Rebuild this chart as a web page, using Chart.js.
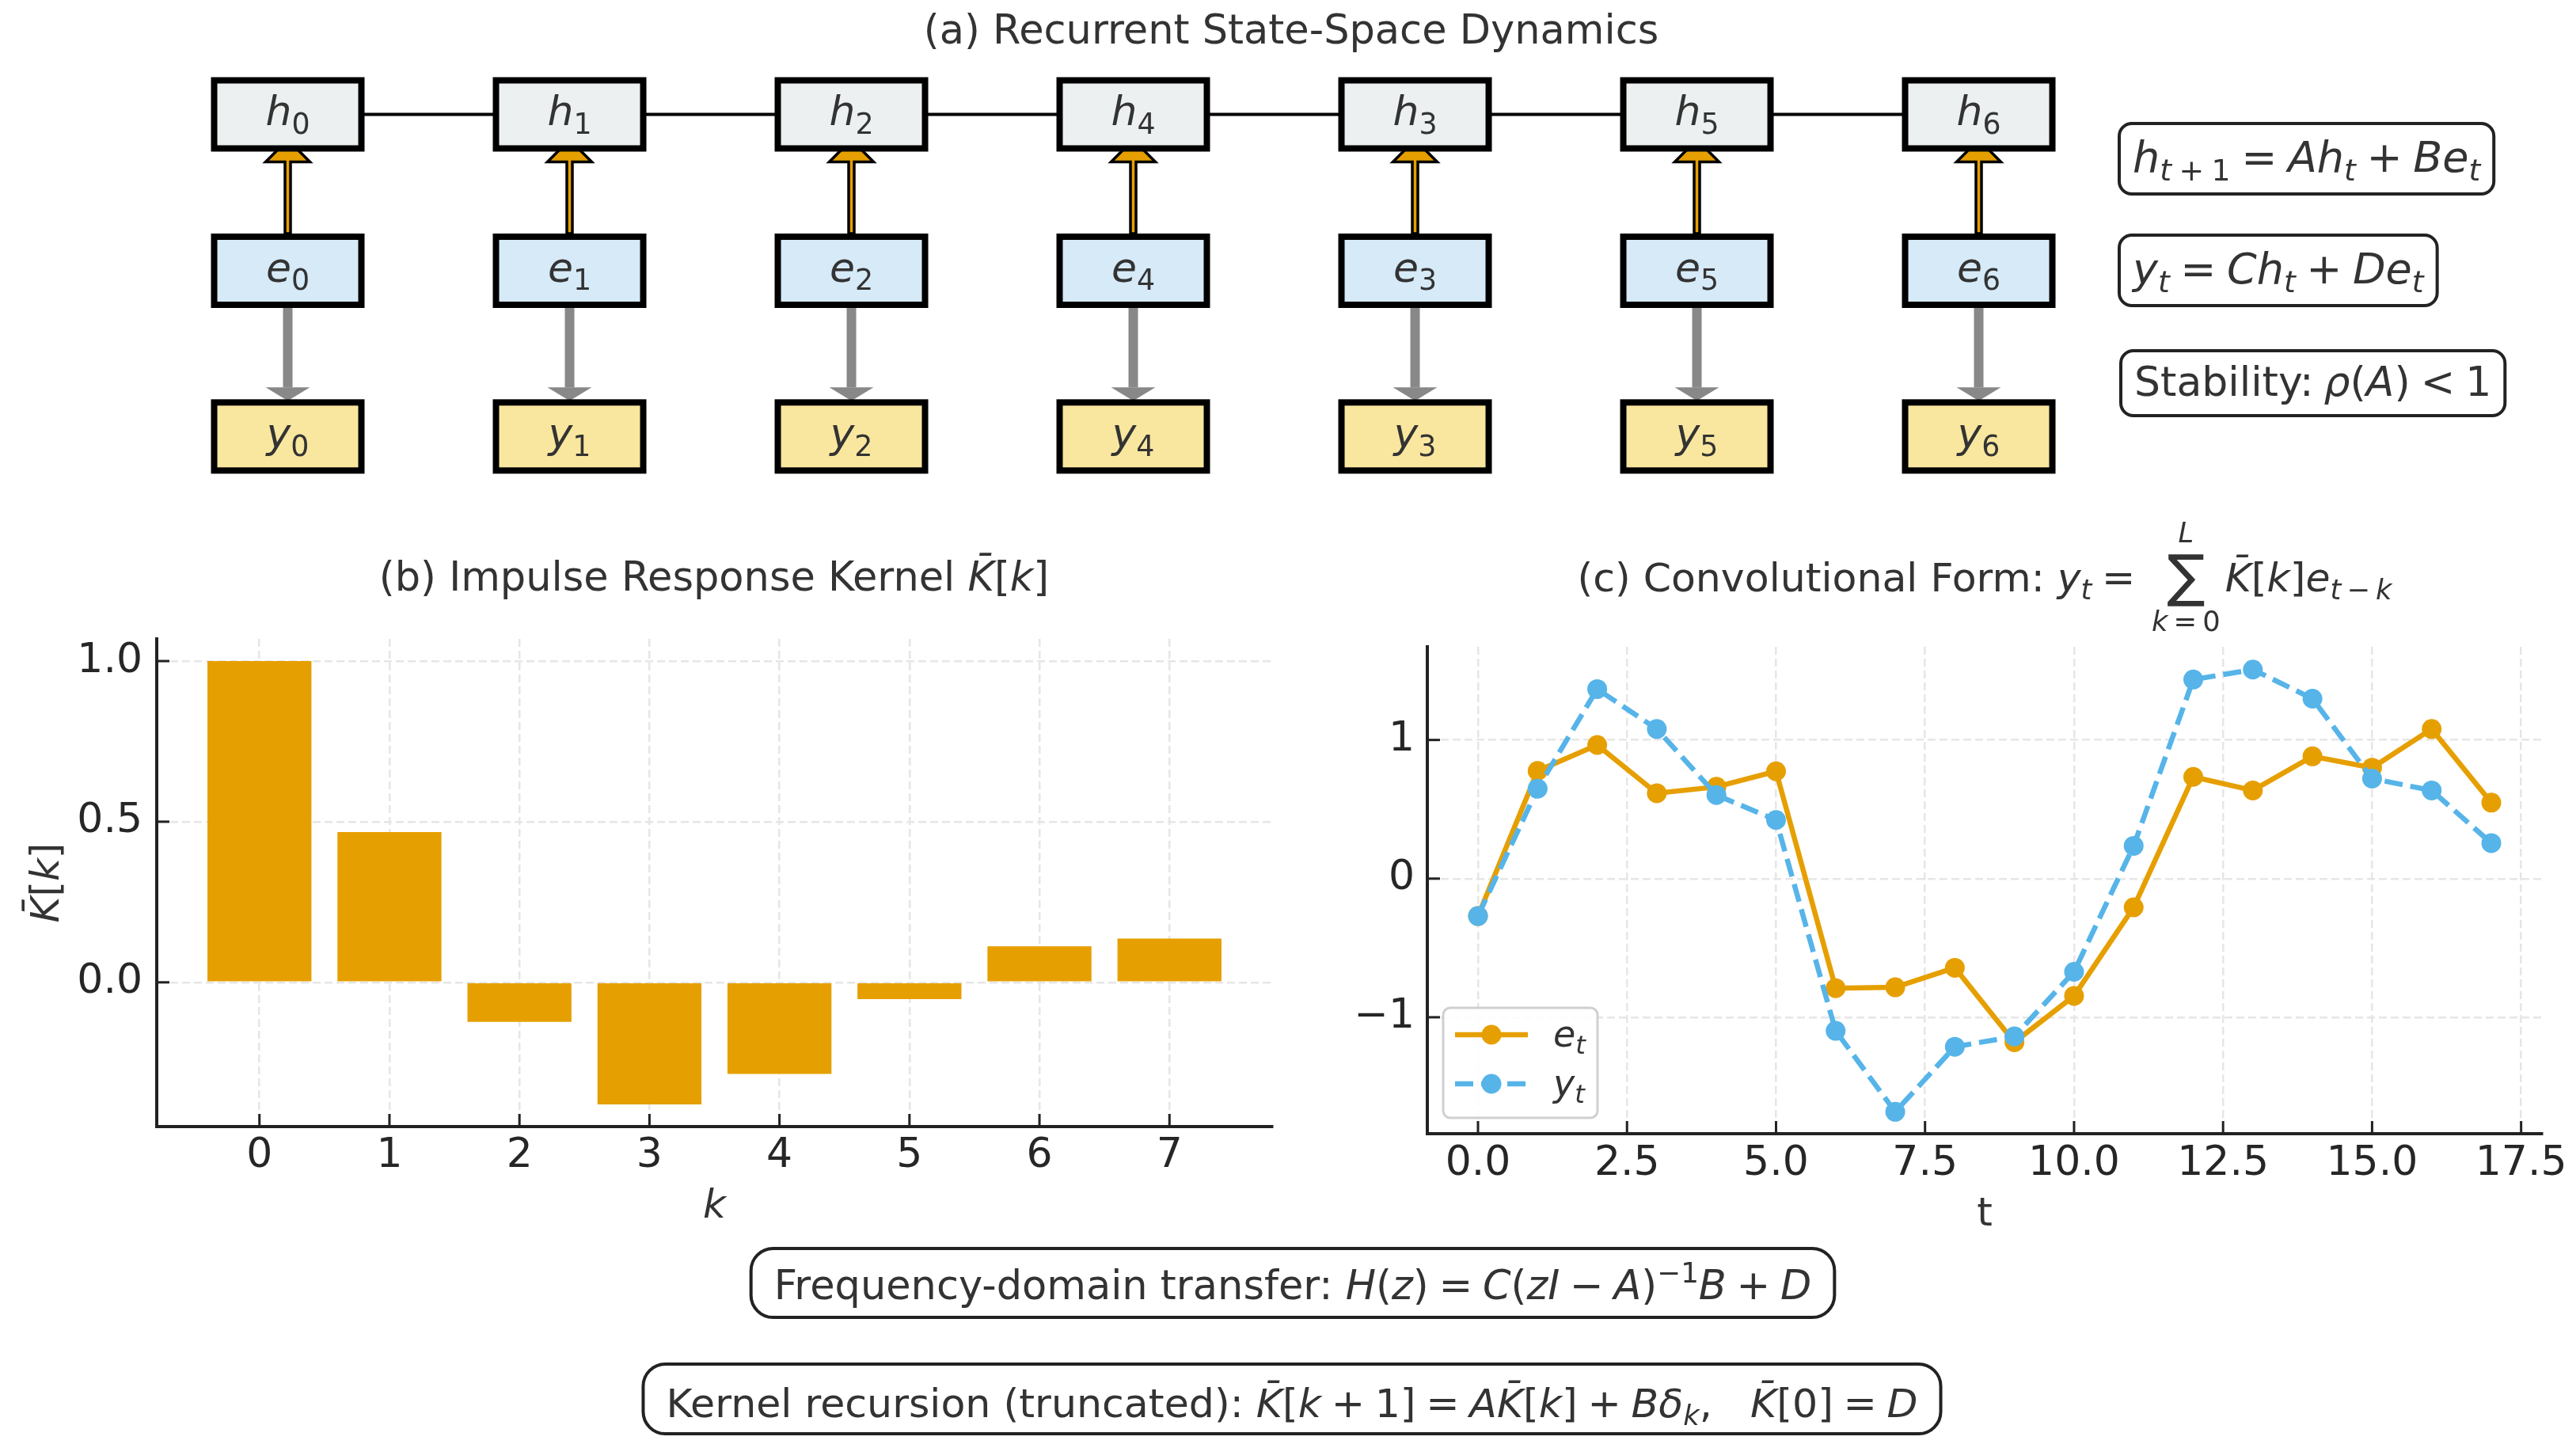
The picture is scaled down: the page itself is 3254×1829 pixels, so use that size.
<!DOCTYPE html>
<html>
<head>
<meta charset="utf-8">
<title>State-space model: recurrent and convolutional views</title>
<script src="https://cdn.jsdelivr.net/npm/chart.js@4.4.1/dist/chart.umd.min.js"></script>
<style>
  html, body { margin: 0; padding: 0; background: #fff; overflow: hidden; }
  #page { position: relative; width: 3254px; height: 1829px; }
  #page canvas { position: absolute; }
  #diagram { left: 0; top: 0; }
  #kernelChart { left: 0; top: 680px; }
  #convChart { left: 1700px; top: 680px; }
</style>
</head>
<body>
<div id="page">
  <canvas id="diagram" width="3254" height="1829"></canvas>
  <canvas id="kernelChart" width="1680" height="900"></canvas>
  <canvas id="convChart" width="1554" height="900"></canvas>
</div>
<script>
// --- Data ---

// (a) recurrent diagram: seven steps, subscripts in the order printed
const stepColumns = [0, 1, 2, 3, 4, 5, 6];
const stepSubscripts = ['0', '1', '2', '4', '3', '5', '6'];
const rowNames = ['h', 'e', 'y'];
const rowLevels = [2, 1, -0.06];

// (b) impulse response kernel
const kernelK = [0, 1, 2, 3, 4, 5, 6, 7];
const kernelValues = [1.0, 0.468, -0.123, -0.380, -0.285, -0.052, 0.112, 0.136];
const kernelXTickLabels = ['0', '1', '2', '3', '4', '5', '6', '7'];
const kernelYTicks = [0, 0.5, 1.0];
const kernelYTickLabels = ['0.0', '0.5', '1.0'];

// (c) convolutional form
const timeSteps = [0, 1, 2, 3, 4, 5, 6, 7, 8, 9, 10, 11, 12, 13, 14, 15, 16, 17];
const eSeries = [-0.27, 0.777, 0.964, 0.616, 0.662, 0.774, -0.790, -0.784, -0.643, -1.180, -0.846, -0.207, 0.734, 0.636, 0.882, 0.800, 1.079, 0.548];
const ySeries = [-0.27, 0.649, 1.367, 1.079, 0.603, 0.423, -1.098, -1.682, -1.213, -1.138, -0.672, 0.236, 1.436, 1.508, 1.298, 0.721, 0.636, 0.256];
const convXTicks = [0, 2.5, 5, 7.5, 10, 12.5, 15, 17.5];
const convXTickLabels = ['0.0', '2.5', '5.0', '7.5', '10.0', '12.5', '15.0', '17.5'];
const convYTicks = [-1, 0, 1];
const convYTickLabels = ['\u22121', '0', '1'];

// --- Styles ---
const FONT_FAMILY = '"DejaVu Sans", "Noto Sans", sans-serif';
const TEXT_COLOR = '#333333';
const TICK_COLOR = '#262626';
const AXIS_COLOR = '#222222';
const GRID_COLOR = '#e6e6e6';
const GRID_DASH = [10, 5];
const ORANGE = '#E69F00';
const SKY = '#56B4E9';
const rowFills = ['#ECF0F1', '#D6EAF8', '#F9E79F'];
const BOX_W = 186, BOX_H = 86, BOX_LW = 8;
const TITLE_SIZE = 51;
const SP = '\u2005'; // narrow space around math operators

// --- Rich text helpers (italic / sub / superscript runs) ---
function fontOf(size, italic) {
    return (italic ? 'italic ' : '') + size + 'px ' + FONT_FAMILY;
}

function layoutRich(ctx, parts, size) {
    let w = 0;
    const items = parts.map(([t, f = '']) => {
        const small = f.includes('_') || f.includes('^');
        const s = small ? size * 0.7 : size;
        const font = fontOf(s, f.includes('i'));
        ctx.font = font;
        const width = ctx.measureText(t).width;
        const dy = f.includes('_') ? size * 0.2 : (f.includes('^') ? -size * 0.42 : 0);
        const item = { t, font, x: w, dy };
        w += width;
        return item;
    });
    return { items, width: w };
}

function drawRich(ctx, parts, x, y, size, align = 'center', color = TEXT_COLOR) {
    const lay = layoutRich(ctx, parts, size);
    const x0 = align === 'center' ? x - lay.width / 2 : (align === 'right' ? x - lay.width : x);
    ctx.save();
    ctx.fillStyle = color;
    ctx.textAlign = 'left';
    ctx.textBaseline = 'alphabetic';
    lay.items.forEach(it => {
        ctx.font = it.font;
        ctx.fillText(it.t, x0 + it.x, y + it.dy);
    });
    ctx.restore();
    return lay.width;
}

function roundRect(ctx, x, y, w, h, r) {
    ctx.beginPath();
    ctx.moveTo(x + r, y);
    ctx.arcTo(x + w, y, x + w, y + h, r);
    ctx.arcTo(x + w, y + h, x, y + h, r);
    ctx.arcTo(x, y + h, x, y, r);
    ctx.arcTo(x, y, x + w, y, r);
    ctx.closePath();
}

// text inside a rounded frame; box grows with the measured text
function framedText(ctx, parts, o) {
    const w = layoutRich(ctx, parts, o.size).width + 2 * o.pad;
    const left = o.left !== undefined ? o.left : o.cx - w / 2;
    ctx.save();
    roundRect(ctx, left, o.top, w, o.h, o.r);
    ctx.fillStyle = '#ffffff';
    ctx.fill();
    ctx.lineWidth = 4;
    ctx.strokeStyle = AXIS_COLOR;
    ctx.stroke();
    ctx.restore();
    drawRich(ctx, parts, left + o.pad, o.baseline, o.size, 'left');
}

function drawSumTitle(ctx, cx, baseline, size) {
    const head = [['(c) Convolutional Form: '], ['y', 'i'], ['t', 'i_'], [SP + '=' + SP]];
    const tail = [['K\u0304', 'i'], ['['], ['k', 'i'], [']'], ['e', 'i'], ['t', 'i_'], ['\u2009\u2212\u2009', '_'], ['k', 'i_']];
    const above = [['L', 'i']];
    const below = [['k', 'i'], ['\u2009=\u20090']];
    const small = size * 0.7;
    const sigSize = size * 1.42;
    const wHead = layoutRich(ctx, head, size).width;
    const wTail = layoutRich(ctx, tail, size).width;
    const wBelow = layoutRich(ctx, below, small).width;
    ctx.font = fontOf(sigSize, false);
    const wSig = ctx.measureText('\u2211').width;
    const wBlock = Math.max(wBelow, wSig);
    const gap = 6;
    let x = cx - (wHead + 8 + wBlock + gap + wTail) / 2;
    drawRich(ctx, head, x, baseline, size, 'left');
    x += wHead + 8;
    const bc = x + wBlock / 2;
    ctx.save();
    ctx.fillStyle = TEXT_COLOR;
    ctx.font = fontOf(sigSize, false);
    ctx.textAlign = 'center';
    ctx.textBaseline = 'alphabetic';
    ctx.fillText('\u2211', bc, baseline + 5);
    ctx.restore();
    drawRich(ctx, above, bc, baseline - 62, small, 'center');
    drawRich(ctx, below, bc, baseline + 50, small, 'center');
    x += wBlock + gap;
    drawRich(ctx, tail, x, baseline, size, 'left');
}

// --- (a) diagram + panel titles + formula boxes ---
const diagramPlugin = {
    id: 'diagram',
    beforeDraw(chart) {
        const ctx = chart.ctx;
        ctx.save();
        ctx.fillStyle = '#ffffff';
        ctx.fillRect(0, 0, chart.width, chart.height);
        ctx.restore();
    },
    afterDatasetsDraw(chart) {
        const ctx = chart.ctx;
        const pts = rowNames.map((r, ri) => chart.getDatasetMeta(ri).data.map(p => ({ x: p.x, y: p.y })));
        const [hP, eP, yP] = pts;
        const halfH = BOX_H / 2 + BOX_LW / 2;

        ctx.save();
        // hidden state chain
        ctx.strokeStyle = '#000';
        ctx.lineWidth = 4;
        ctx.beginPath();
        ctx.moveTo(hP[0].x, hP[0].y);
        ctx.lineTo(hP[hP.length - 1].x, hP[hP.length - 1].y);
        ctx.stroke();

        stepColumns.forEach((c, i) => {
            const x = eP[i].x;
            // e -> h (orange, outlined)
            const from = eP[i].y - halfH;
            const hb = hP[i].y + halfH;
            const base = hb + 13, tip = hb - 15;
            ctx.beginPath();
            ctx.moveTo(x - 3.5, from);
            ctx.lineTo(x - 3.5, base);
            ctx.lineTo(x - 28, base);
            ctx.lineTo(x, tip);
            ctx.lineTo(x + 28, base);
            ctx.lineTo(x + 3.5, base);
            ctx.lineTo(x + 3.5, from);
            ctx.closePath();
            ctx.fillStyle = ORANGE;
            ctx.fill();
            ctx.strokeStyle = '#000';
            ctx.lineWidth = 3.5;
            ctx.stroke();
            // e -> y (gray)
            const g0 = eP[i].y + halfH;
            const gt = yP[i].y - halfH;
            ctx.fillStyle = '#888888';
            ctx.fillRect(x - 6, g0, 12, gt - 15 - g0);
            ctx.beginPath();
            ctx.moveTo(x - 28, gt - 15);
            ctx.lineTo(x + 28, gt - 15);
            ctx.lineTo(x, gt + 2);
            ctx.closePath();
            ctx.fill();
        });

        // node boxes
        pts.forEach((row, ri) => {
            row.forEach((p, i) => {
                ctx.fillStyle = rowFills[ri];
                ctx.fillRect(p.x - BOX_W / 2, p.y - BOX_H / 2, BOX_W, BOX_H);
                ctx.lineWidth = BOX_LW;
                ctx.strokeStyle = '#000';
                ctx.strokeRect(p.x - BOX_W / 2, p.y - BOX_H / 2, BOX_W, BOX_H);
                drawRich(ctx, [[rowNames[ri], 'i'], [stepSubscripts[i], '_']], p.x, p.y + 14, 52);
            });
        });
        ctx.restore();

        // titles
        drawRich(ctx, [['(a) Recurrent State-Space Dynamics']], 1631, 55, TITLE_SIZE);
        drawRich(ctx, [['(b) Impulse Response Kernel '], ['K\u0304', 'i'], ['['], ['k', 'i'], [']']], 902, 746, TITLE_SIZE);
        drawSumTitle(ctx, 2507, 747, 50.5);

        // state-space equations
        framedText(ctx, [['h', 'i'], ['t', 'i_'], [SP + '+' + SP + '1', '_'], [SP + '=' + SP], ['Ah', 'i'], ['t', 'i_'], [SP + '+' + SP], ['Be', 'i'], ['t', 'i_']],
            { left: 2677, top: 156, h: 89, size: 54, baseline: 217, pad: 17, r: 16 });
        framedText(ctx, [['y', 'i'], ['t', 'i_'], [SP + '=' + SP], ['Ch', 'i'], ['t', 'i_'], [SP + '+' + SP], ['De', 'i'], ['t', 'i_']],
            { left: 2677, top: 297, h: 89, size: 54, baseline: 358, pad: 17, r: 16 });
        framedText(ctx, [['Stability:' + SP], ['\u03C1', 'i'], ['('], ['A', 'i'], [')'], [SP + '<' + SP + '1']],
            { left: 2679, top: 443, h: 82, size: 52, baseline: 500, pad: 17, r: 16 });

        // frequency domain + kernel recursion
        framedText(ctx, [['Frequency-domain transfer: '], ['H', 'i'], ['('], ['z', 'i'], [')'], [SP + '=' + SP], ['C', 'i'], ['('], ['zI', 'i'],
            [SP + '\u2212' + SP], ['A', 'i'], [')'], ['\u22121', '^'], ['B', 'i'], [SP + '+' + SP], ['D', 'i']],
            { cx: 1633, top: 1577, h: 87, size: 51, baseline: 1641, pad: 29, r: 28 });
        framedText(ctx, [['Kernel recursion (truncated): '], ['K\u0304', 'i'], ['['], ['k', 'i'], [SP + '+' + SP + '1]'], [SP + '=' + SP], ['AK\u0304', 'i'], ['['],
            ['k', 'i'], [']'], [SP + '+' + SP], ['B\u03B4', 'i'], ['k', 'i_'], [',   '], ['K\u0304', 'i'], ['[0]'], [SP + '=' + SP], ['D', 'i']],
            { cx: 1632, top: 1723, h: 88, size: 50.6, baseline: 1790, pad: 29, r: 28 });
    }
};

new Chart(document.getElementById('diagram'), {
    type: 'scatter',
    data: {
        datasets: rowNames.map((r, ri) => ({
            label: r,
            data: stepColumns.map(c => ({ x: c, y: rowLevels[ri] })),
            pointRadius: 0
        }))
    },
    options: {
        responsive: false,
        animation: false,
        devicePixelRatio: 1,
        layout: { padding: 0 },
        plugins: { legend: { display: false }, tooltip: { enabled: false } },
        scales: {
            x: { type: 'linear', display: false, min: -1.0211, max: 8.1193 },
            y: { type: 'linear', display: false, min: -6.5292, max: 2.7316 }
        }
    },
    plugins: [diagramPlugin]
});

// --- shared axis pieces ---
const inwardTicks = {
    id: 'inwardTicks',
    afterDraw(chart) {
        const { ctx, chartArea: a, scales } = chart;
        ctx.save();
        ctx.strokeStyle = AXIS_COLOR;
        ctx.lineWidth = 3;
        scales.x.ticks.forEach(t => {
            const px = scales.x.getPixelForValue(t.value);
            ctx.beginPath();
            ctx.moveTo(px, a.bottom);
            ctx.lineTo(px, a.bottom - 16);
            ctx.stroke();
        });
        scales.y.ticks.forEach(t => {
            const py = scales.y.getPixelForValue(t.value);
            ctx.beginPath();
            ctx.moveTo(a.left, py);
            ctx.lineTo(a.left + 16, py);
            ctx.stroke();
        });
        ctx.restore();
    }
};

function axisOptions(o) {
    return {
        type: 'linear',
        offset: false,
        min: o.min,
        max: o.max,
        afterBuildTicks: s => { s.ticks = o.ticks.map(v => ({ value: v })); },
        afterFit: o.fit,
        grid: { color: GRID_COLOR, lineWidth: 2.5, drawTicks: false, offset: false },
        border: { display: true, color: AXIS_COLOR, width: 4, dash: GRID_DASH },
        ticks: {
            padding: o.pad,
            color: TICK_COLOR,
            font: { family: FONT_FAMILY, size: 52 },
            autoSkip: false,
            maxRotation: 0,
            callback: (v, i) => o.labels[i]
        },
        title: o.title || { display: false }
    };
}

// --- (b) kernel bars ---
const kernelYLabel = {
    id: 'kernelYLabel',
    afterDraw(chart) {
        const { ctx, chartArea: a } = chart;
        ctx.save();
        ctx.translate(74, (a.top + a.bottom) / 2);
        ctx.rotate(-Math.PI / 2);
        drawRich(ctx, [['K\u0304', 'i'], ['['], ['k', 'i'], [']']], 0, 0, 50);
        ctx.restore();
    }
};

new Chart(document.getElementById('kernelChart'), {
    type: 'bar',
    data: {
        datasets: [{
            label: 'K[k]',
            data: kernelK.map((k, i) => ({ x: k, y: kernelValues[i] })),
            backgroundColor: ORANGE,
            borderWidth: 0,
            barPercentage: 0.8,
            categoryPercentage: 1.0
        }]
    },
    options: {
        responsive: false,
        animation: false,
        devicePixelRatio: 1,
        layout: { padding: { left: 0, top: 127, right: 73, bottom: 0 } },
        plugins: { legend: { display: false }, tooltip: { enabled: false } },
        scales: {
            x: axisOptions({
                min: -0.79, max: 7.79, ticks: kernelK, labels: kernelXTickLabels, pad: 6,
                fit: s => { s.height = 157; },
                title: { display: true, text: 'k', color: TEXT_COLOR, font: { family: FONT_FAMILY, size: 50, style: 'italic' }, padding: { top: 0, bottom: 25 } }
            }),
            y: axisOptions({
                min: -0.449, max: 1.069, ticks: kernelYTicks, labels: kernelYTickLabels, pad: 18,
                fit: s => { s.width = 198; }
            })
        }
    },
    plugins: [inwardTicks, kernelYLabel]
});

// --- (c) input vs output ---
const convLegend = {
    id: 'convLegend',
    afterDraw(chart) {
        const { ctx, chartArea: a } = chart;
        const left = a.left + 20, w = 195, h = 139, top = a.bottom - 20 - h;
        ctx.save();
        roundRect(ctx, left, top, w, h, 9);
        ctx.fillStyle = 'rgba(255,255,255,0.85)';
        ctx.fill();
        ctx.strokeStyle = '#d0d0d0';
        ctx.lineWidth = 3;
        ctx.stroke();
        chart.data.datasets.forEach((ds, i) => {
            const cy = top + 34 + i * 62;
            ctx.strokeStyle = ds.borderColor;
            ctx.lineWidth = ds.borderWidth;
            ctx.setLineDash(ds.borderDash || []);
            ctx.beginPath();
            ctx.moveTo(left + 15, cy);
            ctx.lineTo(left + 107, cy);
            ctx.stroke();
            ctx.setLineDash([]);
            ctx.fillStyle = ds.borderColor;
            ctx.beginPath();
            ctx.arc(left + 61, cy, ds.pointRadius, 0, Math.PI * 2);
            ctx.fill();
            const [base, sub] = ds.label.split('_');
            drawRich(ctx, [[base, 'i'], [sub, 'i_']], left + 139, cy + 15, 46, 'left');
        });
        ctx.restore();
    }
};

new Chart(document.getElementById('convChart'), {
    type: 'line',
    data: {
        datasets: [
            {
                label: 'e_t',
                data: timeSteps.map((t, i) => ({ x: t, y: eSeries[i] })),
                borderColor: ORANGE,
                backgroundColor: ORANGE,
                borderWidth: 6.5,
                pointRadius: 12.5,
                pointBorderWidth: 0,
                pointBackgroundColor: ORANGE,
                tension: 0,
                order: 1
            },
            {
                label: 'y_t',
                data: timeSteps.map((t, i) => ({ x: t, y: ySeries[i] })),
                borderColor: SKY,
                backgroundColor: SKY,
                borderWidth: 6.5,
                borderDash: [23, 10],
                pointRadius: 12.5,
                pointBorderWidth: 0,
                pointBackgroundColor: SKY,
                tension: 0,
                order: 0
            }
        ]
    },
    options: {
        responsive: false,
        animation: false,
        devicePixelRatio: 1,
        layout: { padding: { left: 0, top: 137, right: 43, bottom: 0 } },
        plugins: { legend: { display: false }, tooltip: { enabled: false } },
        scales: {
            x: axisOptions({
                min: -0.85, max: 17.85, ticks: convXTicks, labels: convXTickLabels, pad: 7,
                fit: s => { s.height = 148; },
                title: { display: true, text: 't', color: TEXT_COLOR, font: { family: FONT_FAMILY, size: 50 }, padding: { top: 0, bottom: 15 } }
            }),
            y: axisOptions({
                min: -1.84, max: 1.672, ticks: convYTicks, labels: convYTickLabels, pad: 16,
                fit: s => { s.width = 103; }
            })
        }
    },
    plugins: [inwardTicks, convLegend]
});
</script>
</body>
</html>
